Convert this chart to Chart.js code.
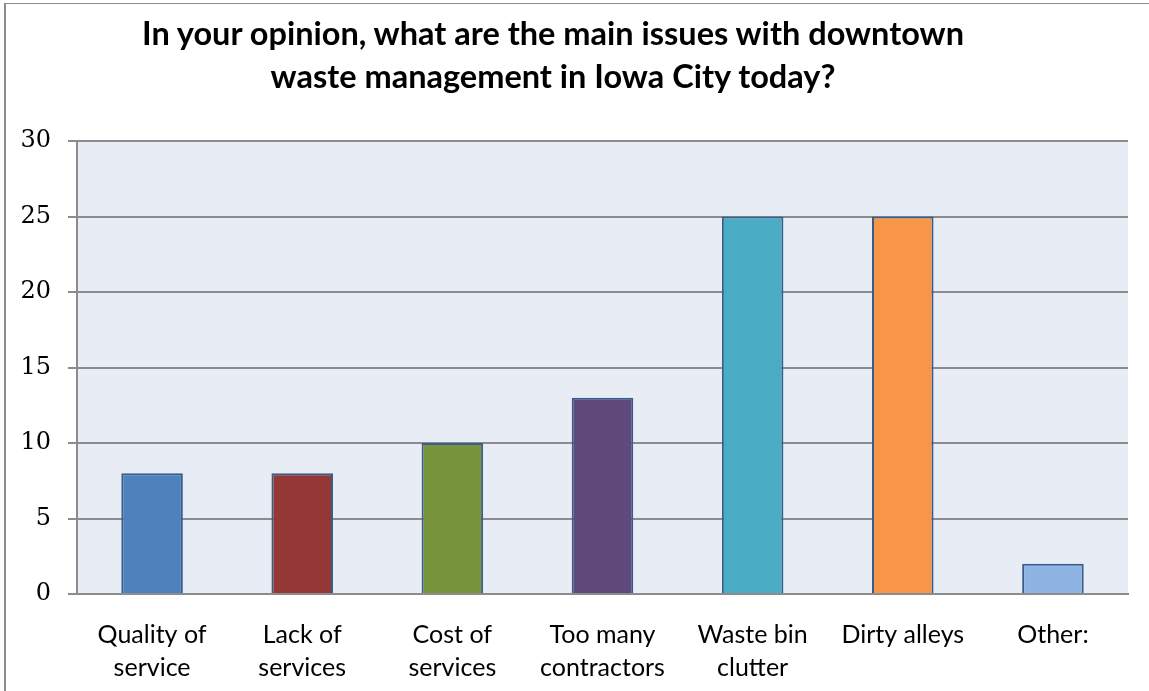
<!DOCTYPE html>
<html><head><meta charset="utf-8">
<script src="https://cdn.jsdelivr.net/npm/chart.js@4.4.1/dist/chart.umd.min.js"></script>
<style>
html,body{margin:0;padding:0;background:#fff;overflow:hidden}
#wrap{position:relative;width:1149px;height:691px;overflow:hidden}
#frame{position:absolute;left:4px;top:3px;width:1300px;height:900px;border-left:2px solid #8c8c8c;border-top:1px solid #8c8c8c}
#title{position:absolute;left:0;width:1106px;top:11px;text-align:center;font-family:Lato,sans-serif;font-weight:bold;font-size:32.5px;line-height:43px;color:#000;z-index:2}
canvas{position:absolute;left:0;top:0}
</style>
</head><body>
<div id="wrap">
<div id="frame"></div>
<div id="title">In your opinion, what are the main issues with downtown<br>waste management in Iowa City today?</div>
<canvas id="c" width="1149" height="691"></canvas>
</div>
<script>
const categories = [["Quality of","service"],["Lack of","services"],["Cost of","services"],["Too many","contractors"],["Waste bin","clutter"],["Dirty alleys"],["Other:"]];
const values = [8, 8, 10, 13, 25, 25, 2];
const barColors = ["#4F81BD","#953735","#77933C","#604A7B","#4BACC6","#F79646","#8EB4E3"];
const yTicks = [0, 5, 10, 15, 20, 25, 30];

const bgPlugin = {
  id: 'plotBg',
  beforeDraw(chart) {
    const a = chart.chartArea, ctx = chart.ctx;
    ctx.save();
    ctx.fillStyle = '#E8ECF5';
    ctx.fillRect(a.left, a.top, a.right - a.left, a.bottom - a.top);
    ctx.restore();
  }
};

new Chart(document.getElementById('c'), {
  type: 'bar',
  data: {
    labels: categories,
    datasets: [{
      data: values,
      backgroundColor: barColors,
      borderColor: '#385D8A',
      borderWidth: 2,
      barPercentage: 0.41,
      categoryPercentage: 1.0
    }]
  },
  options: {
    responsive: false,
    animation: false,
    layout: { padding: { top: 141, right: 21, left: 0, bottom: 0 } },
    plugins: { legend: { display: false }, tooltip: { enabled: false }, title: { display: false } },
    scales: {
      x: {
        afterFit(s) { s.height = 97; },
        grid: { display: false },
        border: { display: true, color: '#8c8c8c', width: 2 },
        ticks: { color: '#000', padding: 16, maxRotation: 0, autoSkip: false, font: { family: 'Lato', size: 25, lineHeight: 1.32 } }
      },
      y: {
        min: 0, max: 30,
        afterFit(s) { s.width = 77; },
        afterBuildTicks(s) { s.ticks = yTicks.map(v => ({ value: v })); },
        grid: { color: '#8c8c8c', lineWidth: 2, tickLength: 9, drawTicks: true },
        border: { display: true, color: '#8c8c8c', width: 2 },
        ticks: { color: '#000', padding: 17, font: { family: 'DejaVu Serif', size: 24 } }
      }
    }
  },
  plugins: [bgPlugin]
});
</script>
</body></html>
